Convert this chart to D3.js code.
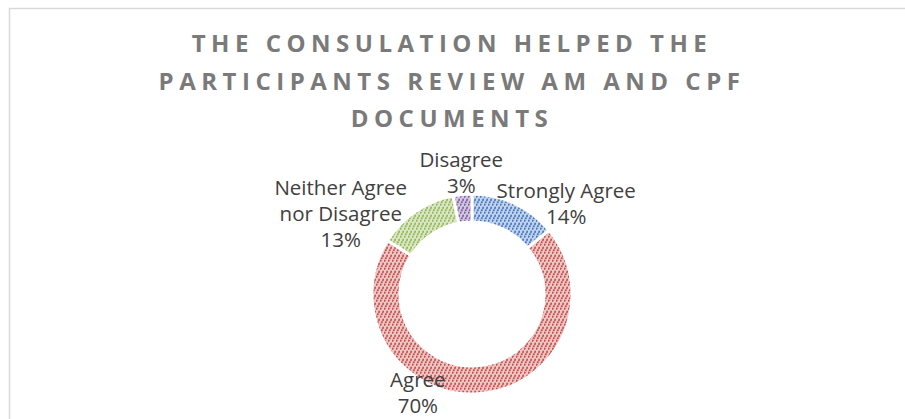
<!DOCTYPE html>
<html>
<head>
<meta charset="utf-8">
<script src="https://cdn.jsdelivr.net/npm/d3@7"></script>
<style>
  body { margin: 0; background: #fff; }
  text { font-family: 'Open Sans', 'DejaVu Sans', sans-serif; }
</style>
</head>
<body>
<div id="chart"></div>
<script>
const categories = ['Strongly Agree', 'Agree', 'Neither Agree nor Disagree', 'Disagree'];
const labelLines = [['Strongly Agree'], ['Agree'], ['Neither Agree', 'nor Disagree'], ['Disagree']];
const values = [14, 70, 13, 3];
const titleLines = ['THE CONSULATION HELPED THE', 'PARTICIPANTS REVIEW AM AND CPF', 'DOCUMENTS'];

const fgColors = ['#4577bd', '#c0504d', '#93b653', '#7d5fa0'];
const bgColors = ['#c2d3ee', '#f0c6c5', '#d9e7c6', '#d2c6e0'];
// label nudges from the default outside position, like Excel moved them
const labelNudge = [[41, 22.5], [-62, -26], [-61, 23], [1, 2.5]];

const width = 905;
const height = 419;
const cx = 472;
const cy = 294;
const outerR = 100;
const innerR = 72;

const svg = d3.select('#chart')
  .append('svg')
  .attr('width', width)
  .attr('height', height);

const defs = svg.append('defs');
fgColors.forEach((c, i) => {
  const p = defs.append('pattern')
    .attr('id', `hatch${i}`)
    .attr('patternUnits', 'userSpaceOnUse')
    .attr('width', 4)
    .attr('height', 8);
  p.append('rect').attr('width', 4).attr('height', 8).attr('fill', bgColors[i]);
  p.append('path')
    .attr('d', 'M-1,10 L5,-2')
    .attr('stroke', c)
    .attr('stroke-width', 1.7)
    .attr('stroke-dasharray', '2 0.7');
});

// chart area border
svg.append('rect')
  .attr('x', 9.5)
  .attr('y', 8.5)
  .attr('width', width)
  .attr('height', height)
  .attr('fill', 'none')
  .attr('stroke', '#d9d9d9')
  .attr('stroke-width', 1.5);

// title
svg.append('g')
  .selectAll('text')
  .data(titleLines)
  .enter()
  .append('text')
  .attr('x', 452)
  .attr('y', (d, i) => 52 + i * 37.5)
  .attr('text-anchor', 'middle')
  .attr('fill', '#7a7a7a')
  .attr('font-size', 24)
  .attr('font-weight', 'bold')
  .attr('letter-spacing', 5.5)
  .text(d => d);

const pie = d3.pie().sort(null).value(d => d);
const arc = d3.arc().innerRadius(innerR).outerRadius(outerR);
const labelArc = d3.arc().innerRadius(125).outerRadius(125);

const g = svg.append('g').attr('transform', `translate(${cx}, ${cy})`);
const arcs = pie(values);

g.selectAll('path')
  .data(arcs)
  .enter()
  .append('path')
  .attr('d', arc)
  .attr('fill', (d, i) => `url(#hatch${i})`)
  .attr('stroke', '#fff')
  .attr('stroke-width', 3);

const lh = 26;
const labels = g.selectAll('.lbl')
  .data(arcs)
  .enter()
  .append('text')
  .attr('class', 'lbl')
  .attr('text-anchor', 'middle')
  .attr('fill', '#404040')
  .attr('font-size', 20.5);

labels.each(function(d, i) {
  const [lx, ly] = labelArc.centroid(d);
  const x = lx + labelNudge[i][0];
  const y = ly + labelNudge[i][1];
  const lines = labelLines[i].concat([`${values[i]}%`]);
  const n = lines.length;
  d3.select(this)
    .selectAll('tspan')
    .data(lines)
    .enter()
    .append('tspan')
    .attr('x', x)
    .attr('y', (t, k) => y + (k - (n - 1) / 2) * lh + 7.5)
    .text(t => t);
});
</script>
</body>
</html>
